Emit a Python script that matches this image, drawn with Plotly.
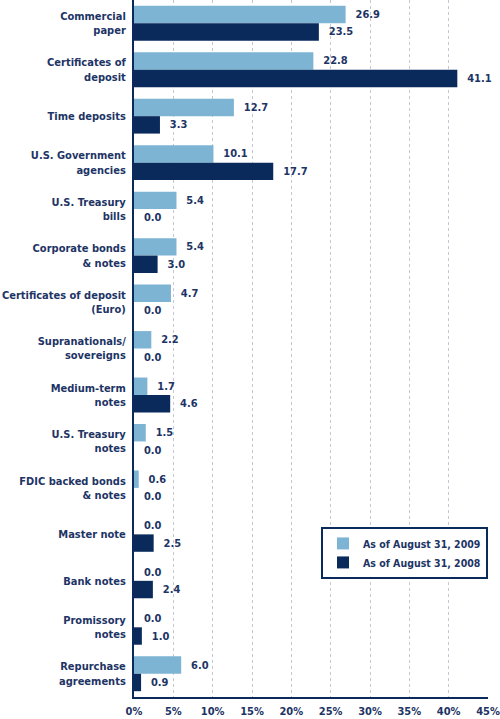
import plotly.graph_objects as go

categories = [
    "Commercial<br>paper", "Certificates of<br>deposit", "Time deposits",
    "U.S. Government<br>agencies", "U.S. Treasury<br>bills", "Corporate bonds<br>& notes",
    "Certificates of deposit<br>(Euro)", "Supranationals/<br>sovereigns", "Medium-term<br>notes",
    "U.S. Treasury<br>notes", "FDIC backed bonds<br>& notes", "Master note",
    "Bank notes", "Promissory<br>notes", "Repurchase<br>agreements",
]
values_2009 = [26.9, 22.8, 12.7, 10.1, 5.4, 5.4, 4.7, 2.2, 1.7, 1.5, 0.6, 0.0, 0.0, 0.0, 6.0]
values_2008 = [23.5, 41.1, 3.3, 17.7, 0.0, 3.0, 0.0, 0.0, 4.6, 0.0, 0.0, 2.5, 2.4, 1.0, 0.9]
tick_vals = [0, 5, 10, 15, 20, 25, 30, 35, 40, 45]
tick_text = [f"{v}%" for v in tick_vals]

NAVY = "#0b2a5c"
LIGHT = "#7db4d4"
TEXT = "#1d3465"
FONT = "DejaVu Sans Condensed"
FS = 11
PAD = "\u00a0\u00a0"

def f(size=FS):
    return dict(family=FONT, size=size, color=TEXT, weight="bold")

fig = go.Figure()
fig.add_trace(go.Bar(
    y=categories, x=values_2009, orientation="h", name="As of August 31, 2009",
    marker=dict(color=LIGHT, line=dict(width=0)),
    text=[f"{PAD}{v:.1f}" for v in values_2009], textposition="outside",
    textfont=f(), cliponaxis=False, hoverinfo="skip",
))
fig.add_trace(go.Bar(
    y=categories, x=values_2008, orientation="h", name="As of August 31, 2008",
    marker=dict(color=NAVY, line=dict(width=0)),
    text=[f"{PAD}{v:.1f}" for v in values_2008], textposition="outside",
    textfont=f(), cliponaxis=False, hoverinfo="skip",
))

fig.update_layout(
    width=500, height=719,
    margin=dict(l=134, r=12, t=0, b=22, autoexpand=False),
    barmode="group", bargap=0.25, bargroupgap=0,
    plot_bgcolor="white", paper_bgcolor="white",
    font=f(),
    legend=dict(
        x=1.0, y=0.244, xanchor="right", yanchor="top",
        bgcolor="white", bordercolor=NAVY, borderwidth=2,
        font=f(10.5), tracegroupgap=2, itemwidth=30,
    ),
    showlegend=True,
)
fig.update_xaxes(
    range=[0, 45], tickvals=tick_vals, ticktext=tick_text, tickangle=0, automargin=False,
    showgrid=True, gridcolor="#c5c8d2", griddash="dot", gridwidth=1,
    zeroline=False, showline=True, linecolor=NAVY, linewidth=2,
    ticks="", tickfont=f(), ticklabelstandoff=3,
)
fig.update_yaxes(
    autorange="reversed", showgrid=False, showline=True, linecolor=NAVY, linewidth=2,
    automargin=False,
    ticks="", tickfont=f(), ticklabelstandoff=4,
)

fig.write_html("out.html", config={"displayModeBar": False},
               post_script="document.body.style.margin='0';")
